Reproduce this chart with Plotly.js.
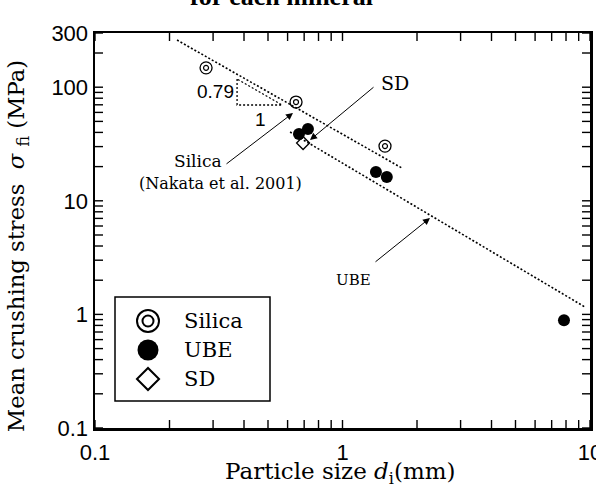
<!DOCTYPE html>
<html>
<head>
<meta charset="utf-8">
<script src="https://cdn.plot.ly/plotly-3.0.1.min.js"></script>
<style>html,body{margin:0;padding:0;background:#fff;}#chart{width:596px;height:484px;}</style>
</head>
<body>
<div id="chart"></div>
<script>
// ---- data ----
const seriesNames = ['Silica', 'UBE', 'SD'];
const silicaX = [0.281, 0.649, 1.485];
const silicaY = [148, 74, 30.3];
const ubeX = [0.667, 0.725, 1.365, 1.51, 7.85];
const ubeY = [38.7, 42.9, 17.9, 16.2, 0.89];
const sdX = [0.693];
const sdY = [32.3];
const silicaFitX = [0.2145, 1.74];
const silicaFitY = [260, 19.4];
const ubeFitX = [0.614, 9.55];
const ubeFitY = [40.3, 1.16];
const slopeTriX = [0.375, 0.375, 0.570, 0.375];
const slopeTriY = [118, 69.7, 69.7, 118];
// tick positions (labelled decades + unlabelled 2..9 ticks)
const xTickVals = [0.1,0.2,0.3,0.4,0.5,0.6,0.7,0.8,0.9,1,2,3,4,5,6,7,8,9,10];
const xTickText = ['0.1','','','','','','','','','1','','','','','','','','','10'];
const yTickVals = [0.1,0.2,0.3,0.4,0.5,0.6,0.7,0.8,0.9,1,2,3,4,5,6,7,8,9,10,20,30,40,50,60,70,80,90,100,200,300];
const yTickText = ['0.1','','','','','','','','','1','','','','','','','','','10','','','','','','','','','100','','300'];

// ---- geometry helpers ----
const L = 95, R = 590, T = 33, B = 428;
const X_RANGE = [-1, 1], Y_RANGE = [-1, Math.log10(300)];
const pxPerDecX = (R - L) / (X_RANGE[1] - X_RANGE[0]);
const pxPerDecY = (B - T) / (Y_RANGE[1] - Y_RANGE[0]);
const lx = px => X_RANGE[0] + (px - L) / pxPerDecX;
const ly = py => Y_RANGE[0] + (B - py) / pxPerDecY;
const pxp = px => (px - L) / (R - L);
const pyp = py => (B - py) / (B - T);

const serif = 'DejaVu Serif, serif';
const tserif = 'Liberation Serif, Times New Roman, serif';
const sans = 'Liberation Sans, Arial, sans-serif';
const dotted = {color: '#000', width: 1.6, dash: '2px,2px'};

// inside tick marks on all four sides as layout shapes, built from the tick arrays
const TICK = 8;
const tickLine = {color: '#000', width: 1.4};
const tickShapes = [];
const fx = v => (Math.log10(v) - X_RANGE[0]) / (X_RANGE[1] - X_RANGE[0]);
const fy = v => (Math.log10(v) - Y_RANGE[0]) / (Y_RANGE[1] - Y_RANGE[0]);
const tx = TICK / (R - L), ty = TICK / (B - T);
xTickVals.forEach(v => {
  const p = fx(v);
  tickShapes.push({type: 'line', xref: 'paper', yref: 'paper', x0: p, x1: p, y0: 0, y1: ty, line: tickLine});
  tickShapes.push({type: 'line', xref: 'paper', yref: 'paper', x0: p, x1: p, y0: 1, y1: 1 - ty, line: tickLine});
});
yTickVals.forEach(v => {
  const p = fy(v);
  tickShapes.push({type: 'line', xref: 'paper', yref: 'paper', x0: 0, x1: tx, y0: p, y1: p, line: tickLine});
  tickShapes.push({type: 'line', xref: 'paper', yref: 'paper', x0: 1, x1: 1 - tx, y0: p, y1: p, line: tickLine});
});

// legend glyph anchor (pixel positions of the legend rows)
const legX = 148, legRows = [321, 350, 379];
const gx = px => Math.pow(10, lx(px));
const gy = py => Math.pow(10, ly(py));

const traces = [
  {x: silicaFitX, y: silicaFitY, mode: 'lines', line: dotted, showlegend: false, hoverinfo: 'skip'},
  {x: ubeFitX, y: ubeFitY, mode: 'lines', line: dotted, showlegend: false, hoverinfo: 'skip'},
  {x: slopeTriX, y: slopeTriY, mode: 'lines', line: {color: '#000', width: 1.3, dash: '2px,2px'}, showlegend: false, hoverinfo: 'skip'},
  {x: silicaX, y: silicaY, mode: 'markers', name: seriesNames[0], showlegend: false,
   marker: {symbol: 'circle-open', size: 12, color: '#000', line: {width: 1.3, color: '#000'}}},
  {x: silicaX, y: silicaY, mode: 'markers', showlegend: false, hoverinfo: 'skip',
   marker: {symbol: 'circle-open', size: 5, color: '#000', line: {width: 1.2, color: '#000'}}},
  {x: ubeX, y: ubeY, mode: 'markers', name: seriesNames[1], showlegend: false,
   marker: {symbol: 'circle', size: 12, color: '#000'}},
  {x: sdX, y: sdY, mode: 'markers', name: seriesNames[2], showlegend: false,
   marker: {symbol: 'diamond-open', size: 10, color: '#000', line: {width: 1.3, color: '#000'}}},
  // legend glyphs
  {x: [gx(legX)], y: [gy(legRows[0])], mode: 'markers', showlegend: false, hoverinfo: 'skip',
   marker: {symbol: 'circle-open', size: 22, color: '#000', line: {width: 2, color: '#000'}}},
  {x: [gx(legX)], y: [gy(legRows[0])], mode: 'markers', showlegend: false, hoverinfo: 'skip',
   marker: {symbol: 'circle-open', size: 11, color: '#000', line: {width: 2, color: '#000'}}},
  {x: [gx(legX)], y: [gy(legRows[1])], mode: 'markers', showlegend: false, hoverinfo: 'skip',
   marker: {symbol: 'circle', size: 21, color: '#000'}},
  {x: [gx(legX)], y: [gy(legRows[2])], mode: 'markers', showlegend: false, hoverinfo: 'skip',
   marker: {symbol: 'diamond-open', size: 17, color: '#000', line: {width: 2, color: '#000'}}}
];

const axCommon = {
  type: 'log', showgrid: false, zeroline: false, showline: true, linecolor: '#000', linewidth: 2.5,
  mirror: true, ticks: '', tickmode: 'array', ticklabeloverflow: 'allow',
  tickfont: {family: sans, size: 22, color: '#000'}
};

const ann = [];
function txt(text, px, py, size, font, extra) {
  ann.push(Object.assign({text: text, xref: 'paper', yref: 'paper', x: pxp(px), y: pyp(py),
    xanchor: 'center', yanchor: 'middle', showarrow: false, font: {family: font, size: size, color: '#000'}}, extra || {}));
}
function arrow(hx, hy, tx2, ty2) {
  ann.push({text: '', x: lx(hx), y: ly(hy), xref: 'x', yref: 'y', ax: tx2 - hx, ay: ty2 - hy,
    showarrow: true, arrowhead: 2, arrowsize: 1.4, arrowwidth: 1, arrowcolor: '#000', standoff: 0});
}
txt('<b>for each mineral</b>', 281, 0, 26, tserif, {yanchor: 'bottom', y: 1.05});
txt('Mean crushing stress  <i>σ</i> <sub>fi</sub> (MPa)', 18, 246, 22.7, serif, {textangle: -90});
txt('Particle size <i>d</i><sub>i</sub>(mm)', 340, 473, 23, serif);
txt('0.79', 215, 91, 19, sans);
txt('1', 260, 120, 19, sans);
txt('SD', 395, 83, 19, serif);
txt('Silica', 198, 161, 17, serif);
txt('(Nakata et al. 2001)', 220, 183, 16, serif);
txt('UBE', 353, 280, 15, serif);
txt(seriesNames[0], 182, legRows[0], 21, serif, {xanchor: 'left'});
txt(seriesNames[1], 182, legRows[1], 21, serif, {xanchor: 'left'});
txt(seriesNames[2], 182, legRows[2], 21, serif, {xanchor: 'left'});
arrow(293, 113, 225, 165);
arrow(310, 140, 375, 86);
arrow(430, 218, 374, 263);

const layout = {
  width: 596, height: 484,
  margin: {l: L, r: 596 - R, t: T, b: 484 - B, pad: 0},
  paper_bgcolor: '#fff', plot_bgcolor: '#fff', showlegend: false,
  xaxis: Object.assign({}, axCommon, {range: X_RANGE, tickvals: xTickVals, ticktext: xTickText, ticklabelstandoff: 3}),
  yaxis: Object.assign({}, axCommon, {range: Y_RANGE, tickvals: yTickVals, ticktext: yTickText}),
  shapes: [{type: 'rect', xref: 'paper', yref: 'paper', x0: pxp(115), x1: pxp(270), y0: pyp(401), y1: pyp(297),
    line: {color: '#000', width: 1.5}, fillcolor: 'rgba(0,0,0,0)'}].concat(tickShapes),
  annotations: ann
};

Plotly.newPlot('chart', traces, layout, {displayModeBar: false, staticPlot: true});
</script>
</body>
</html>
